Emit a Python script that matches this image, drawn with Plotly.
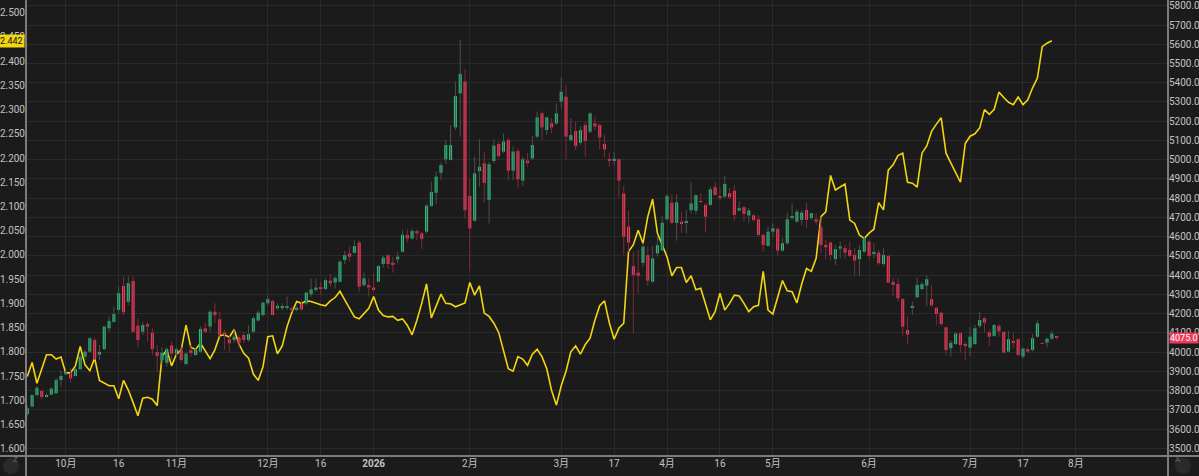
import plotly.graph_objects as go

# ---------------- data ----------------
tick_idx = [8, 19, 31, 50, 61, 72, 92, 111, 122, 133, 144, 155, 175, 196, 207, 218]
tick_text = ['10月', '16', '11月', '12月', '16', '<b>2026</b>', '2月', '3月', '17', '4月', '16',
             '5月', '6月', '7月', '17', '8月']

opens = [3678, 3717, 3777, 3798, 3769, 3779, 3786, 3855, 3885, 3890, 3876, 3911, 3976, 4002, 4063,
         3987, 4015, 4124, 4157, 4219, 4344, 4262, 4370, 4138, 4106, 4145, 4101, 3999, 3959, 3945,
         4035, 3994, 4011, 3938, 4010, 3985, 4002, 4124, 4133, 4210, 4170, 4101, 4067, 4063, 4077,
         4089, 4063, 4106, 4164, 4193, 4254, 4266, 4228, 4228, 4233, 4228, 4220, 4250, 4253, 4301,
         4323, 4335, 4328, 4371, 4362, 4366, 4478, 4513, 4516, 4569, 4348, 4348, 4336, 4366, 4458,
         4503, 4465, 4482, 4522, 4608, 4591, 4629, 4617, 4626, 4759, 4828, 4932, 5002, 4999, 5168,
         5345, 5406, 4811, 4683, 4941, 4981, 4790, 4993, 5082, 5042, 5102, 4943, 5045, 4891, 4995,
         5007, 5120, 5241, 5154, 5189, 5189, 5302, 5327, 5102, 5149, 5088, 5180, 5146, 5189, 5180,
         5081, 5003, 4998, 5002, 4825, 4652, 4447, 4413, 4464, 4504, 4366, 4513, 4530, 4690, 4776,
         4672, 4678, 4672, 4738, 4735, 4783, 4765, 4765, 4857, 4808, 4808, 4826, 4839, 4736, 4753,
         4710, 4711, 4690, 4609, 4552, 4626, 4640, 4528, 4566, 4699, 4678, 4687, 4739, 4696, 4690,
         4649, 4557, 4569, 4483, 4538, 4540, 4531, 4505, 4483, 4522, 4574, 4513, 4517, 4458, 4500,
         4365, 4354, 4276, 4115, 4233, 4285, 4328, 4346, 4275, 4230, 4205, 4129, 4020, 4042, 4098,
         4041, 4023, 4042, 4136, 4176, 4103, 4084, 4136, 4105, 4003, 4058, 4067, 3977, 4015, 4011,
         4080, 4046, 4049, 4070, 4080]
highs = [3720, 3781, 3824, 3803, 3789, 3820, 3864, 3904, 3905, 3916, 3921, 3985, 4014, 4077, 4077,
         4037, 4136, 4184, 4236, 4340, 4392, 4396, 4392, 4176, 4158, 4158, 4124, 4037, 4025, 4025,
         4054, 4025, 4028, 4002, 4037, 4020, 4133, 4153, 4219, 4254, 4210, 4115, 4084, 4124, 4089,
         4106, 4139, 4184, 4216, 4262, 4297, 4271, 4254, 4254, 4288, 4236, 4240, 4270, 4314, 4383,
         4383, 4366, 4383, 4406, 4392, 4478, 4527, 4548, 4582, 4579, 4414, 4383, 4409, 4453, 4503,
         4510, 4496, 4522, 4638, 4638, 4643, 4638, 4626, 4770, 4886, 4938, 4984, 5102, 5180, 5406,
         5622, 5470, 4903, 5016, 5107, 5040, 4990, 5106, 5094, 5137, 5111, 5068, 5059, 5016, 5036,
         5123, 5250, 5250, 5224, 5215, 5293, 5428, 5388, 5215, 5197, 5175, 5197, 5250, 5224, 5189,
         5128, 5036, 5041, 5007, 4863, 4735, 4522, 4530, 4565, 4548, 4551, 4608, 4709, 4821, 4821,
         4821, 4730, 4738, 4882, 4821, 4826, 4773, 4860, 4886, 4860, 4916, 4852, 4869, 4782, 4760,
         4748, 4718, 4713, 4618, 4652, 4670, 4649, 4592, 4725, 4774, 4742, 4739, 4777, 4725, 4722,
         4704, 4583, 4574, 4557, 4574, 4557, 4574, 4540, 4557, 4600, 4583, 4566, 4531, 4540, 4505,
         4384, 4384, 4280, 4184, 4262, 4389, 4365, 4401, 4349, 4236, 4210, 4132, 4063, 4106, 4105,
         4054, 4129, 4141, 4210, 4184, 4115, 4146, 4146, 4110, 4110, 4101, 4070, 4025, 4023, 4093,
         4167, 4047, 4075, 4111, 4084]
lows = [3665, 3713, 3768, 3755, 3763, 3777, 3782, 3821, 3880, 3841, 3873, 3907, 3959, 3997, 3959,
        3959, 4011, 4106, 4153, 4198, 4193, 4245, 4101, 4025, 4089, 4054, 3985, 3898, 3933, 3925,
        3959, 3976, 3950, 3933, 3976, 3980, 3997, 4101, 4106, 4150, 4080, 4011, 3997, 4049, 4025,
        4046, 4054, 4098, 4158, 4184, 4245, 4188, 4219, 4216, 4219, 4210, 4212, 4215, 4245, 4288,
        4314, 4297, 4323, 4340, 4331, 4362, 4458, 4470, 4513, 4314, 4340, 4288, 4314, 4362, 4440,
        4433, 4413, 4461, 4518, 4570, 4582, 4582, 4536, 4617, 4756, 4770, 4894, 4978, 4995, 5155,
        5120, 4695, 4423, 4678, 4860, 4777, 4669, 4981, 5007, 5033, 4894, 4894, 4851, 4863, 4964,
        4998, 5111, 5102, 5128, 5137, 5180, 5267, 5002, 5094, 5050, 5076, 5016, 5137, 5154, 5054,
        5012, 4964, 4972, 4804, 4504, 4522, 4097, 4305, 4444, 4343, 4361, 4496, 4522, 4683, 4665,
        4579, 4620, 4617, 4721, 4718, 4774, 4621, 4760, 4812, 4787, 4800, 4795, 4684, 4730, 4678,
        4670, 4678, 4600, 4522, 4549, 4600, 4505, 4522, 4557, 4687, 4670, 4661, 4644, 4687, 4661,
        4514, 4483, 4476, 4453, 4488, 4488, 4493, 4396, 4396, 4514, 4483, 4488, 4453, 4448, 4358,
        4292, 4262, 4089, 4042, 4193, 4280, 4323, 4240, 4236, 4141, 4136, 3980, 3976, 4037, 3997,
        3956, 3980, 4037, 4124, 4101, 4032, 4080, 4080, 3994, 3997, 4020, 3980, 3964, 3997, 4003,
        4075, 4042, 4025, 4063, 4067]
closes = [3708, 3777, 3815, 3767, 3777, 3810, 3855, 3876, 3897, 3864, 3911, 3976, 4002, 4072, 3966,
          4001, 4133, 4162, 4198, 4306, 4207, 4358, 4106, 4063, 4141, 4133, 4015, 3980, 3997, 4016,
          3992, 4015, 3959, 3992, 3995, 4011, 4120, 4106, 4210, 4193, 4089, 4089, 4046, 4080, 4049,
          4063, 4094, 4176, 4205, 4257, 4275, 4193, 4240, 4240, 4240, 4216, 4230, 4222, 4309, 4326,
          4335, 4330, 4374, 4357, 4386, 4470, 4504, 4496, 4551, 4340, 4383, 4336, 4323, 4447, 4491,
          4458, 4456, 4496, 4610, 4591, 4629, 4617, 4588, 4761, 4832, 4912, 4972, 5076, 5076, 5331,
          5446, 4738, 4643, 4929, 4963, 4880, 4976, 5073, 5019, 5094, 4943, 5042, 4898, 5002, 4988,
          5076, 5220, 5168, 5220, 5168, 5241, 5353, 5120, 5128, 5071, 5154, 5097, 5241, 5172, 5116,
          5054, 4995, 5005, 4891, 4600, 4569, 4400, 4397, 4548, 4371, 4487, 4556, 4672, 4811, 4672,
          4778, 4669, 4678, 4773, 4815, 4781, 4704, 4846, 4817, 4805, 4874, 4805, 4713, 4748, 4718,
          4736, 4687, 4609, 4557, 4626, 4644, 4528, 4566, 4690, 4708, 4730, 4725, 4687, 4722, 4678,
          4557, 4545, 4505, 4535, 4549, 4517, 4500, 4476, 4531, 4592, 4500, 4515, 4462, 4505, 4361,
          4349, 4280, 4132, 4091, 4240, 4349, 4353, 4379, 4243, 4198, 4146, 4011, 4049, 4096, 4037,
          4032, 4080, 4124, 4167, 4153, 4080, 4141, 4108, 3997, 4067, 4049, 3985, 4018, 4003, 4072,
          4150, 4043, 4070, 4096, 4075]

compare = [1.749, 1.778, 1.735, 1.763, 1.794, 1.794, 1.785, 1.789, 1.756, 1.757, 1.771, 1.811, 1.773,
           1.761, 1.787, 1.741, 1.735, 1.730, 1.730, 1.703, 1.741, 1.721, 1.695, 1.668, 1.704, 1.706,
           1.702, 1.689, 1.790, 1.804, 1.771, 1.795, 1.804, 1.855, 1.809, 1.805, 1.818, 1.802, 1.786,
           1.804, 1.833, 1.835, 1.830, 1.846, 1.816, 1.797, 1.787, 1.754, 1.741, 1.769, 1.831, 1.833,
           1.796, 1.812, 1.852, 1.881, 1.904, 1.900, 1.905, 1.904, 1.900, 1.897, 1.895, 1.905, 1.912,
           1.925, 1.907, 1.890, 1.872, 1.868, 1.880, 1.890, 1.914, 1.886, 1.875, 1.872, 1.873, 1.865,
           1.868, 1.855, 1.835, 1.865, 1.900, 1.940, 1.870, 1.895, 1.919, 1.900, 1.899, 1.893, 1.897,
           1.901, 1.943, 1.917, 1.936, 1.880, 1.873, 1.859, 1.840, 1.800, 1.765, 1.760, 1.790, 1.785,
           1.772, 1.795, 1.805, 1.790, 1.765, 1.720, 1.690, 1.730, 1.760, 1.800, 1.812, 1.795, 1.815,
           1.828, 1.865, 1.895, 1.905, 1.860, 1.826, 1.849, 1.859, 2.007, 2.021, 2.051, 2.024, 2.079,
           2.115, 2.045, 2.021, 1.996, 1.957, 1.974, 1.974, 1.943, 1.957, 1.928, 1.931, 1.898, 1.866,
           1.883, 1.921, 1.886, 1.900, 1.917, 1.915, 1.900, 1.883, 1.893, 1.896, 1.966, 1.886, 1.878,
           1.910, 1.947, 1.926, 1.924, 1.901, 1.940, 1.972, 1.966, 1.993, 2.079, 2.089, 2.164, 2.134,
           2.140, 2.146, 2.072, 2.065, 2.041, 2.034, 2.045, 2.053, 2.108, 2.093, 2.175, 2.186, 2.205,
           2.210, 2.150, 2.148, 2.140, 2.210, 2.225, 2.255, 2.270, 2.283, 2.210, 2.190, 2.170, 2.150,
           2.230, 2.245, 2.250, 2.262, 2.300, 2.290, 2.300, 2.336, 2.325, 2.315, 2.310, 2.326, 2.310,
           2.320, 2.345, 2.365, 2.430, 2.437, 2.442]

# ---------------- styling ----------------
W, H = 1199, 476
ML, MR, MT, MB = 26, 31, 0, 20
PW, PH = W - ML - MR, H - MT - MB
BG = '#1b1b1b'
GRID = '#2a2a2a'
FRAME = '#7c7c7c'
TXT = '#c2c2c2'
UP = '#22c07a'
DN = '#ec3d5b'
UP_WICK = '#4e4e4e'
DN_WICK = '#7e2a3a'
YEL = '#f2d60f'
FONT = 'Roboto, "Noto Sans CJK SC", sans-serif'

n = len(opens)
idx = list(range(n))
up = [i for i in idx if closes[i] >= opens[i]]
dn = [i for i in idx if closes[i] < opens[i]]


def wick_xy(ids):
    xs, ys = [], []
    for i in ids:
        xs += [i, i, None]
        ys += [lows[i], highs[i], None]
    return xs, ys


fig = go.Figure()

# comparison line (left axis)
fig.add_trace(go.Scatter(x=list(range(len(compare))), y=compare, mode='lines',
                         line=dict(color=YEL, width=1.6), yaxis='y', hoverinfo='skip'))

# wicks
for ids, col in ((up, UP_WICK), (dn, DN_WICK)):
    wx, wy = wick_xy(ids)
    fig.add_trace(go.Scatter(x=wx, y=wy, mode='lines', line=dict(color=col, width=1),
                             yaxis='y2', hoverinfo='skip', connectgaps=False))

# bodies
MIN_BODY = 4
for ids, col in ((up, UP), (dn, DN)):
    base = [min(opens[i], closes[i]) for i in ids]
    hgt = [max(abs(closes[i] - opens[i]), MIN_BODY) for i in ids]
    fig.add_trace(go.Bar(x=ids, y=hgt, base=base, width=0.64, yaxis='y2',
                         marker=dict(color=col, line=dict(width=0)), hoverinfo='skip'))

x_lo = -1.3 / 4.81
x_hi = x_lo + PW / 4.81

fig.update_layout(
    width=W, height=H, margin=dict(l=ML, r=MR, t=MT, b=MB, pad=0),
    paper_bgcolor=BG, plot_bgcolor=BG, showlegend=False, barmode='overlay',
    font=dict(family=FONT, size=10, color=TXT),
    xaxis=dict(range=[x_lo, x_hi], tickmode='array', tickvals=tick_idx, ticktext=tick_text,
               showgrid=True, gridcolor=GRID, gridwidth=1, zeroline=False, showline=False,
               ticks='', tickfont=dict(size=10, color=TXT), fixedrange=True),
    yaxis=dict(range=[1.5849, 2.5262], tick0=1.6, dtick=0.05, tickformat='.3f',
               showgrid=False, zeroline=False, showline=False, ticks='',
               tickfont=dict(size=10, color=TXT), side='left'),
    yaxis2=dict(range=[3460, 5830], tick0=3500, dtick=100, tickformat='.1f', overlaying='y',
                side='right', showgrid=True, gridcolor=GRID, gridwidth=1, zeroline=False,
                showline=False, ticks='', tickfont=dict(size=10, color=TXT)),
)

# frame lines that run through the axis gutters
ex_l, ex_r = ML / PW, MR / PW
ex_b = MB / PH
shapes = [
    dict(type='line', xref='paper', yref='paper', x0=-ex_l, x1=1 + ex_r, y0=0, y1=0,
         line=dict(color=FRAME, width=2)),
    dict(type='line', xref='paper', yref='paper', x0=0, x1=0, y0=-ex_b, y1=1,
         line=dict(color=FRAME, width=2)),
    dict(type='line', xref='paper', yref='paper', x0=1, x1=1, y0=-ex_b, y1=1,
         line=dict(color=FRAME, width=2)),
]
# small round buttons in the bottom corners
for cx_px, label in ((11, 'Z'), (1183, 'A')):
    cx = (cx_px - ML) / PW
    cy = (PH - (466 - MT)) / PH
    rx, ry = 8 / PW, 8 / PH
    shapes.append(dict(type='circle', xref='paper', yref='paper', x0=cx - rx, x1=cx + rx,
                       y0=cy - ry, y1=cy + ry, fillcolor='#2a2a2a', line=dict(width=0), layer='above'))
fig.update_layout(shapes=shapes)

annotations = [
    dict(xref='paper', yref='paper', x=(11 - ML) / PW, y=(PH - (466 - MT)) / PH, text='Z',
         showarrow=False, font=dict(size=8, color='#6d6d6d')),
    dict(xref='paper', yref='paper', x=(1183 - ML) / PW, y=(PH - (466 - MT)) / PH, text='A',
         showarrow=False, font=dict(size=8, color='#6d6d6d')),
    # last-value tags
    dict(xref='paper', yref='y', x=0, y=compare[-1], xanchor='right', yanchor='middle',
         text='%.3f' % compare[-1], showarrow=False, bgcolor=YEL, borderpad=1,
         font=dict(size=9, color='#111111'), xshift=-1),
    dict(xref='paper', yref='y2', x=1, y=closes[-1], xanchor='left', yanchor='middle',
         text='%.1f' % closes[-1], showarrow=False, bgcolor=DN if closes[-1] < opens[-1] else UP,
         borderpad=0, font=dict(size=9, color='#ffffff'), xshift=1),
]
fig.update_layout(annotations=annotations)

fig.write_html('out.html')
